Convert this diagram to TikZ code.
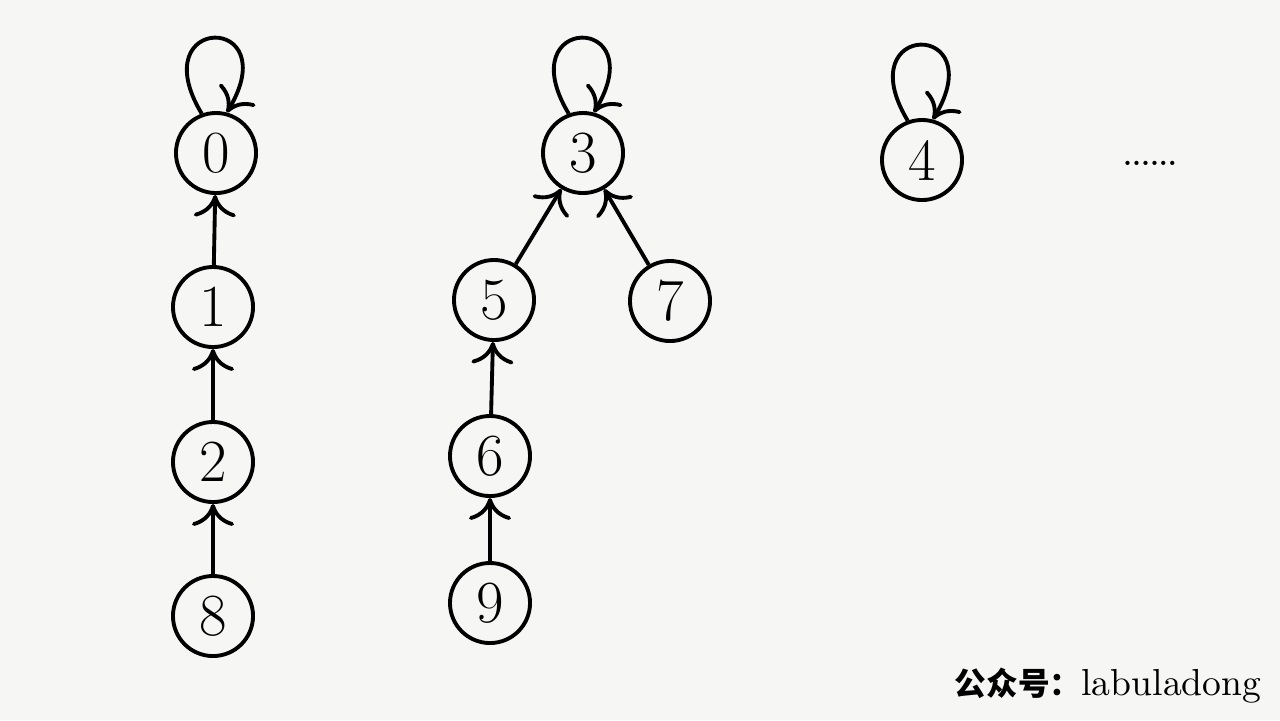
\documentclass[tikz,border=0pt]{standalone}
\usepackage{fontspec}
\newfontfamily\cjk{Noto Sans CJK SC}
\usetikzlibrary{arrows.meta}
\usepackage{xcolor}
\definecolor{paper}{RGB}{246,246,244}

\begin{document}
\begin{tikzpicture}[x=0.01cm, y=-0.01cm,
  vertex/.style={draw, line width=1.1pt, circle, minimum size=0.8cm, inner sep=0, fill=paper, font=\fontsize{17}{19}\selectfont},
  link/.style={line width=1.1pt, -{To[length=2.2mm,width=4.2mm]}}]
\fill[paper] (0,0) rectangle (1280,720);
\useasboundingbox (0,0) rectangle (1280,720);
% first tree
\node[vertex] (n0) at (216,153) {0};
\node[vertex] (n1) at (213,307) {1};
\node[vertex] (n2) at (213,462) {2};
\node[vertex] (n8) at (213,616) {8};
% second tree
\node[vertex] (n3) at (583,153) {3};
\node[vertex] (n5) at (494,300) {5};
\node[vertex] (n7) at (670,301) {7};
\node[vertex] (n6) at (490,456) {6};
\node[vertex] (n9) at (490,603) {9};
% lone root
\node[vertex] (n4) at (922,160) {4};
\node (more) at (1150,163) {\bfseries\fontsize{7.5}{9}\selectfont ......};
\foreach \a/\b in {n1/n0, n2/n1, n8/n2, n5/n3, n7/n3, n6/n5, n9/n6}
  \draw[link] (\a) -- (\b);
% roots point to themselves
\foreach \r in {n0,n3,n4}
  \draw[link] (\r.110) .. controls +(-60,-100) and +(60,-100) .. (\r.75);
\node[anchor=east, inner sep=0] (sign) at (1262,686)
  {{\cjk\bfseries\fontsize{9}{10}\selectfont 公众号：}{\fontsize{10.7}{12}\selectfont labuladong}};
\end{tikzpicture}
\end{document}
